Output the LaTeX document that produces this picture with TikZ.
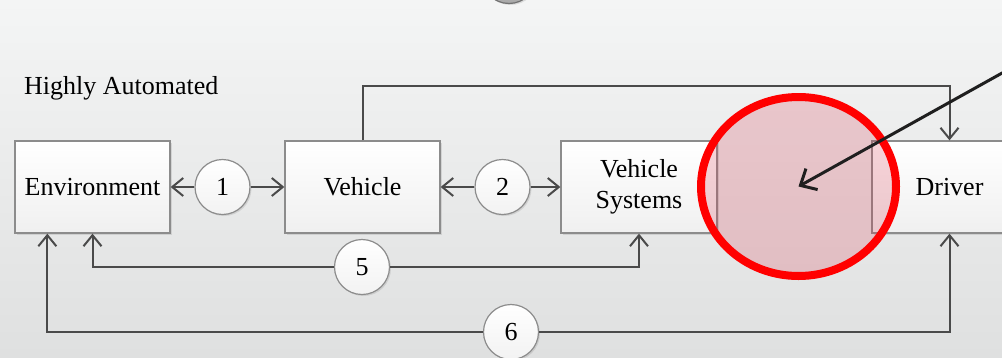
\documentclass[tikz,border=0pt]{standalone}
\usepackage{fontspec}
\setmainfont{Liberation Serif}
\usetikzlibrary{arrows.meta,shadows,calc,shapes.geometric}
\definecolor{lnc}{HTML}{4A4A4A}
\definecolor{bdc}{HTML}{8C8C8C}
\definecolor{bgtop}{HTML}{F4F5F5}
\definecolor{bgbot}{HTML}{DFE0E0}
\definecolor{pinkf}{RGB}{215,37,62}
\definecolor{redr}{RGB}{255,0,0}
\tikzset{
  box/.style={draw=bdc, line width=1.3pt, top color=white, bottom color=black!6,
    minimum width=155pt, minimum height=92pt, inner sep=0pt, align=center,
    font=\fontsize{26}{31}\selectfont,
    drop shadow={shadow xshift=1.5pt, shadow yshift=-1.5pt, opacity=0.22}},
  num/.style={circle, draw=bdc, line width=1.2pt, top color=white, bottom color=black!5,
    minimum size=55pt, inner sep=0pt, font=\fontsize{26}{30}\selectfont,
    drop shadow={shadow xshift=1.5pt, shadow yshift=-1.5pt, opacity=0.22}},
  arr/.style={draw=lnc, line width=2pt, -{Straight Barb[length=11pt,width=18pt,line width=2pt]}},
  pointer/.style={draw=black!88, line width=3pt, -{Straight Barb[length=13pt,width=24pt,line width=3pt]}},
  highlight/.style={ellipse, draw=redr, line width=8pt, fill=pinkf, fill opacity=0.2,
    minimum width=195pt, minimum height=179pt, inner sep=0pt}
}
\begin{document}
\begin{tikzpicture}[x=1pt,y=-1pt]
\useasboundingbox (0,0) rectangle (1002,357);
\clip (0,0) rectangle (1002,357);
\shade[top color=bgtop, bottom color=bgbot] (0,0) rectangle (1002,357);

\node[font=\fontsize{26}{30}\selectfont, anchor=west, inner sep=0pt] (title) at (24,88) {Highly Automated};

\node[box] (env) at (92.5,187) {Environment};
\node[box] (veh) at (362.5,187) {Vehicle};
\node[box, minimum width=156pt] (vs) at (639,187) {Vehicle\\Systems};
\node[box] (drv) at (949.5,187) {Driver};

\node[num] (c1) at (222.5,187) {1};
\node[num] (c2) at (502.5,187) {2};
\node[num] (c5) at (362,267) {5};
\node[num] (c6) at (511,332) {6};
\node[num, draw=black!55, bottom color=black!35] (ctop) at (509,-24) {};

\coordinate (topy) at (0,86);
\coordinate (env6) at ($(env.south west)+(33,0)$);

\draw[arr] (c1.west) -- (env.east);
\draw[arr] (c1.east) -- (veh.west);
\draw[arr] (c2.west) -- (veh.east);
\draw[arr] (c2.east) -- (vs.west);
\draw[arr] (veh.north) -- (veh.north |- topy) -| (drv.north);
\draw[arr] (c5.west) -| (env.south);
\draw[arr] (c5.east) -| (vs.south);
\draw[arr] (c6.west) -| (env6);
\draw[arr] (c6.east) -| (drv.south);

\node[highlight] (hl) at (798.5,186.5) {};

\coordinate (pstart) at (1012,67.5);
\draw[pointer] (pstart) -- (hl.center);
\end{tikzpicture}
\end{document}
